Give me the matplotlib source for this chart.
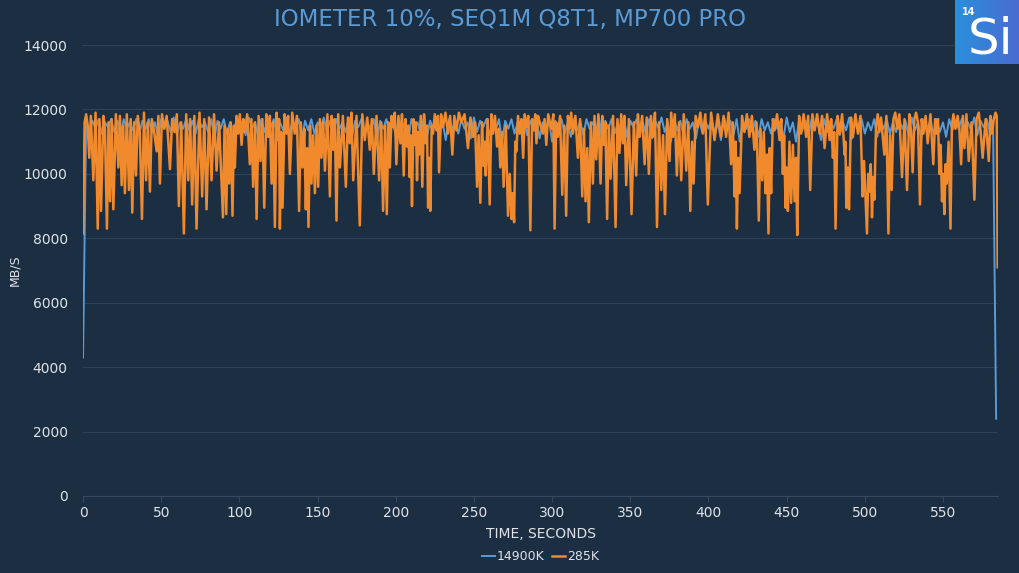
import numpy as np
import matplotlib
matplotlib.use("Agg")
import matplotlib.pyplot as plt

# Данные (время, с -> МБ/с)
title = "IOMETER 10%, SEQ1M Q8T1, MP700 PRO"
series_names = ["14900K", "285K"]

# 14900K: шаг 2 секунды
blue_t = np.arange(0, 586, 2)
blue_v = [
    4300, 11600, 11300, 11650, 11400, 11700, 11250, 11600, 11450, 11700, 11300, 11650, 11200, 11700, 11400, 11600, 11350, 11700, 11250, 11650,
    11400, 11700, 11300, 11600, 11150, 11700, 11450, 11650, 11300, 11750, 11200, 11600, 11400, 11700, 11350, 11650, 11250, 11700, 11450, 11600,
    11300, 11700, 11100, 11650, 11400, 11700, 11250, 11600, 11000, 11700, 11350, 11650, 11200, 11750, 11400, 11600, 11150, 11700, 11300, 11650,
    11450, 11700, 11250, 11600, 11350, 11750, 11200, 11650, 11400, 11700, 11100, 11650, 11350, 11700, 11250, 11600, 11450, 11750, 11300, 11650,
    11200, 11700, 11400, 11600, 11300, 11750, 11150, 11650, 11450, 11700, 11250, 11600, 11350, 11700, 11050, 11650, 11400, 11700, 11300, 11600,
    11200, 11700, 11350, 11650, 11000, 11700, 11400, 11600, 11250, 11750, 11150, 11650, 11400, 11700, 11300, 11600, 11050, 11700, 11350, 11650,
    11250, 11700, 11400, 11600, 11100, 11750, 11300, 11650, 11450, 11700, 11200, 11600, 11350, 11700, 11000, 11650, 11400, 11700, 11250, 11600,
    11350, 11700, 11200, 11650, 11400, 11750, 11100, 11600, 11300, 11700, 11000, 11650, 11400, 11700, 11250, 11600, 11150, 11700, 11350, 11650,
    11200, 11700, 11400, 11600, 11300, 11750, 11050, 11650, 11400, 11700, 11250, 11600, 11350, 11700, 11150, 11650, 11450, 11700, 11300, 11600,
    11250, 11700, 11100, 11650, 11400, 11750, 11300, 11600, 11000, 11700, 11350, 11650, 11200, 11700, 11400, 11600, 11100, 11700, 11300, 11650,
    11400, 11700, 11250, 11600, 11050, 11750, 11350, 11650, 11200, 11700, 11000, 11600, 11400, 11700, 11300, 11650, 11150, 11700, 11350, 11600,
    11250, 11700, 11400, 11650, 11100, 11750, 11300, 11600, 11000, 11700, 11350, 11650, 11200, 11700, 11450, 11600, 11050, 11700, 11300, 11650,
    11400, 11700, 11200, 11600, 11350, 11750, 11100, 11650, 11400, 11700, 11250, 11600, 11350, 11700, 11150, 11650, 11400, 11700, 11250, 11600,
    11300, 11700, 11400, 11650, 11200, 11750, 11350, 11600, 11100, 11700, 11400, 11650, 11250, 11700, 11300, 11600, 11150, 11700, 11350, 11650,
    11400, 11700, 11250, 11600, 11350, 11750, 11200, 11650, 11450, 11700, 11300, 11650, 2400,
]

# 285K: точки (время, МБ/с) - провалы и пики
orange_pts = [
    (0, 8150), (1, 11600), (2, 11850), (3, 11500), (4, 10500), (5, 11800), (6.6, 9800), (8, 11900), (9.4, 8300), (10.5, 11700),
    (11.5, 8850), (13, 11800), (14, 11400), (15.3, 8300), (16.3, 11600), (17.3, 9150), (18.3, 11700), (19.4, 8900), (21, 11850), (22.6, 10200),
    (23.6, 11800), (24.7, 9650), (25.7, 11500), (26.8, 9400), (28, 11850), (29.4, 9500), (30.5, 11700), (31.5, 8800), (32.7, 11600), (33.9, 9950),
    (35, 11800), (36.3, 11300), (37.7, 8600), (39, 11900), (40.3, 9800), (41.5, 11600), (42.8, 9450), (44, 11700), (45.5, 11300), (47.1, 10700),
    (48.2, 11800), (49.2, 9700), (50.5, 11850), (52, 11400), (53.5, 11800), (55.6, 10150), (57, 11700), (58.5, 11300), (60, 11850), (61.3, 9000),
    (62.8, 11600), (64.5, 8150), (66, 11850), (67.3, 9800), (68.5, 11700), (69.8, 9050), (71.2, 11800), (72.6, 8300), (74.5, 11900), (76.2, 9300),
    (77.5, 11700), (79, 8900), (80.6, 11750), (82.2, 9800), (83.8, 11850), (85.4, 10100), (87, 11600), (89.5, 8650), (90.5, 11500), (91.6, 8750),
    (92.6, 11400), (93.5, 9700), (94.5, 11600), (95.6, 8700), (96.5, 11500), (97.1, 10200), (98.2, 11800), (99.3, 11250), (100.3, 11850), (101.4, 10900),
    (102.5, 11700), (103.5, 11300), (105, 11850), (106.7, 10300), (107.7, 11700), (108.8, 9600), (110, 11600), (111, 8600), (112.3, 11800), (113.5, 10400),
    (114.7, 11700), (115.9, 8950), (117.2, 11850), (118.4, 11150), (119.5, 11800), (120.6, 9700), (121.6, 11600), (122.7, 8350), (123.8, 11900), (124.8, 11050),
    (125.4, 11700), (125.9, 8300), (126.8, 11300), (127.6, 8950), (128.9, 11850), (130.1, 11250), (131.2, 11800), (132.3, 10000), (133.8, 11900), (135.4, 11250),
    (136.8, 11800), (138.2, 8850), (139.3, 11600), (140.4, 10200), (141.5, 11400), (142.5, 8900), (143.3, 10800), (144.2, 8350), (145.2, 11500), (146.1, 9700),
    (147.2, 11200), (148.3, 9400), (149.4, 11500), (150.4, 9600), (151.5, 11700), (152.5, 10500), (153.6, 11600), (154.7, 10100), (156.3, 11850), (157.9, 9300),
    (159, 11800), (160, 10750), (161, 11700), (162.1, 8550), (163.2, 11850), (164.3, 10200), (166.2, 11800), (168.1, 9600), (169.4, 11750), (170.6, 10950),
    (171.7, 11900), (172.8, 9800), (174.9, 11800), (177, 8400), (178.6, 11850), (180.2, 11050), (181.8, 11750), (183.4, 10750), (184.7, 11700), (186, 10000),
    (187.7, 11800), (189.4, 9800), (190.7, 11600), (191.9, 8850), (193.2, 11500), (194.3, 8750), (195.3, 11600), (196.2, 10200), (197.3, 11800), (198.3, 11450),
    (199.4, 11900), (200.4, 10300), (201.7, 11800), (203, 10950), (204, 11850), (205.1, 9950), (206.2, 11700), (207.2, 10850), (208, 11500), (208.9, 9900),
    (209.6, 11200), (210.4, 9000), (211.3, 11700), (212.1, 10900), (212.9, 11600), (213.6, 9800), (214.3, 11300), (214.9, 10600), (216, 11800), (217, 9600),
    (218.1, 11850), (219.2, 10950), (220, 11500), (220.7, 8950), (221.4, 10500), (222.1, 8850), (223, 11500), (223.8, 11250), (225, 11850), (226, 11350),
    (227, 11800), (227.7, 10050), (229, 11850), (230.2, 11450), (231.8, 11900), (233.4, 11250), (234.8, 11800), (236.2, 10600), (237.5, 11800), (238.8, 11350),
    (240.4, 11900), (242, 11600), (244, 11850), (246.2, 10800), (247.8, 11750), (249.4, 11150), (250.7, 11600), (252, 9600), (253, 11200), (254.1, 9100),
    (255.2, 11600), (256.2, 10250), (256.9, 11000), (257.5, 9950), (258.8, 11700), (260.1, 9050), (261.2, 11850), (262.2, 11250), (263.5, 11800), (264.8, 10850),
    (265.9, 11400), (266.9, 10200), (268, 11300), (269, 9600), (270.4, 11500), (271.8, 8700), (272.9, 10000), (274, 8600), (274.8, 9400), (275.7, 8500),
    (276.5, 11000), (277.2, 10700), (278.2, 11800), (279.3, 11250), (280.4, 11700), (281.5, 10500), (282.5, 11850), (283.6, 11450), (284.8, 11800), (286.1, 8250),
    (287.2, 11700), (288.3, 11350), (289.2, 11850), (290, 10950), (291, 11800), (292.1, 11600), (294.1, 11250), (295.2, 11700), (296.3, 10900), (297.5, 11850),
    (299.5, 11400), (300.8, 11850), (301.6, 8300), (302.6, 11600), (303.7, 11150), (305.1, 11800), (306.5, 9350), (307.7, 11500), (309, 8700), (310.1, 11800),
    (311.2, 11400), (312.2, 11900), (313.3, 11250), (314.9, 11800), (316.5, 10500), (317.9, 11700), (319.3, 9300), (320.4, 11400), (321.4, 9150), (322.5, 10800),
    (323.5, 8500), (324.8, 11600), (326.1, 9700), (327.1, 11800), (328.2, 10450), (329.6, 11850), (331, 9700), (332.1, 11800), (333.1, 10900), (334.1, 11600),
    (335.2, 8600), (336.3, 11500), (337.4, 9850), (339, 11800), (340.6, 8350), (341.8, 11700), (343.1, 10650), (344.2, 11850), (345.3, 10950), (346.3, 11800),
    (347.4, 9650), (349.1, 11700), (350.8, 8750), (352.3, 11600), (353.8, 9950), (354.9, 11850), (356, 11150), (357.6, 11800), (359.2, 10300), (360.5, 11750),
    (361.9, 10000), (363.2, 11800), (364.5, 11150), (365.8, 11900), (367.1, 8350), (368.4, 11600), (369.8, 9500), (371, 11200), (372.2, 8750), (373.6, 11700),
    (375.1, 10400), (376.2, 11900), (377.3, 11150), (378.5, 11850), (379.8, 9950), (381.2, 11600), (382.6, 9800), (384.2, 11850), (385.8, 10100), (387.1, 11600),
    (388.4, 8850), (389.5, 11000), (390.5, 9700), (391.8, 11800), (393.2, 11450), (394.8, 11900), (396.4, 11250), (398, 11850), (399.6, 9050), (401.7, 11900),
    (403.9, 11050), (406, 11850), (408.1, 11150), (409.7, 11800), (411.3, 11150), (412.9, 11900), (414.5, 10300), (415.6, 11600), (416.7, 9300), (417.4, 11000),
    (418.2, 8300), (419, 10500), (419.9, 9400), (421.5, 11800), (423, 11300), (424.6, 11850), (426.2, 11150), (427.8, 11800), (429.4, 10750), (430.8, 11600),
    (432.2, 8550), (433.3, 11400), (434.4, 9800), (435.4, 11300), (436.5, 9400), (437.4, 10600), (438.4, 8150), (439.2, 10800), (440.1, 9400), (441.2, 11700),
    (442.3, 11350), (443.9, 11850), (445.5, 11050), (446.6, 11700), (447.6, 10000), (448.4, 11200), (449.3, 8950), (450, 10200), (450.8, 8850), (451.8, 11000),
    (452.9, 9100), (454, 10900), (455.1, 9150), (456, 10500), (456.8, 8100), (458, 11800), (459.3, 11250), (460.9, 11850), (462.5, 11150), (463.8, 11800),
    (465.1, 9500), (466.5, 11850), (467.9, 11350), (469.5, 11850), (471.1, 11250), (472.7, 11800), (474.3, 10800), (475.9, 11850), (477.5, 11050), (478.5, 11700),
    (479.6, 10500), (480.4, 11300), (481.3, 8300), (482.6, 11800), (483.9, 11250), (485.5, 11850), (487.1, 10600), (487.6, 11000), (488.2, 8950), (489, 10200),
    (489.9, 8900), (491.2, 11750), (492.4, 11150), (494, 11850), (495.6, 11250), (497.2, 11800), (498.6, 9300), (499.5, 10400), (501.4, 8150), (502.2, 10000),
    (502.9, 9450), (503.8, 10300), (504.6, 8650), (505.4, 9900), (506.1, 9200), (507.2, 11500), (508.3, 11850), (509.3, 11300), (510.4, 11750), (512.5, 10600),
    (513.8, 11800), (515.1, 8150), (516.1, 11200), (517.2, 9500), (518.3, 11700), (519.5, 11900), (520.8, 11400), (522.1, 11850), (523.8, 9900), (525.4, 11700),
    (527, 9500), (528.5, 11850), (529.6, 11300), (530.6, 10050), (531.7, 11700), (532.8, 11900), (534, 11600), (535.3, 9050), (536.4, 11700), (537.5, 11250),
    (538.9, 11800), (540.2, 10950), (542, 11850), (543.8, 10300), (545, 11700), (546, 11250), (546.8, 11700), (547.7, 10000), (548.5, 10900), (549.4, 9150),
    (550.1, 10000), (550.9, 8750), (551.7, 10300), (552.4, 9700), (553.6, 11000), (554.8, 8300), (555.7, 11500), (556.7, 11850), (558, 11400), (559.4, 11800),
    (560.5, 11400), (561.6, 10300), (562.7, 11800), (563.7, 10800), (565, 11850), (566.5, 10400), (568.3, 11600), (570.1, 9200), (571.5, 11700), (572.9, 11900),
    (574.1, 11300), (575.4, 10500), (577.3, 11700), (579.3, 10400), (580.4, 11800), (581.4, 11250), (582.5, 11700), (583.6, 11900), (584.4, 11800), (585, 7100),
]
orange_t = [p[0] for p in orange_pts]
orange_v = [p[1] for p in orange_pts]

y_ticks = [0, 2000, 4000, 6000, 8000, 10000, 12000, 14000]
x_ticks = [0, 50, 100, 150, 200, 250, 300, 350, 400, 450, 500, 550]

bg = '#1c2e42'
txt = '#dfe3e8'
blue = '#5b9bd5'
orange = '#f08a2c'

fig = plt.figure(figsize=(10.2, 5.73), dpi=100, facecolor=bg)
ax = fig.add_axes([0.0814, 0.1344, 0.8975, 0.787], facecolor=bg)

ax.plot(blue_t, blue_v, color=blue, lw=1.4, label=series_names[0])
ax.plot(orange_t, orange_v, color=orange, lw=1.8, label=series_names[1])

ax.set_xlim(0, 585.5)
ax.set_ylim(0, 14000)
ax.set_yticks(y_ticks)
ax.set_xticks(x_ticks)
ax.grid(axis='y', color='#2d4157', lw=0.8)
ax.set_axisbelow(True)
for s in ['top', 'right', 'left']:
    ax.spines[s].set_visible(False)
ax.spines['bottom'].set_color('#34495f')
ax.tick_params(axis='y', length=0, colors=txt, labelsize=10, pad=11)
ax.tick_params(axis='x', length=4, color='#34495f', colors=txt, labelsize=10, pad=3)

ax.set_xlabel('TIME, SECONDS', color=txt, fontsize=10, labelpad=5)
ax.set_ylabel('MB/S', color=txt, fontsize=9, labelpad=2)
fig.text(0.5, 0.966, title, ha='center', va='center', color='#5b9bd5', fontsize=16.5)

leg = ax.legend(loc='upper center', bbox_to_anchor=(0.5, -0.095), ncol=2, frameon=False,
                fontsize=9, handlelength=1.0, handletextpad=0.2, columnspacing=0.6, labelcolor=txt)

# логотип "Si"
lax = fig.add_axes([955 / 1020, 1 - 64 / 573, 65 / 1020, 64 / 573])
grad = np.linspace(0, 1, 100).reshape(1, -1)
lax.imshow(grad, aspect='auto', cmap=matplotlib.colors.LinearSegmentedColormap.from_list('g', ['#2b8fdc', '#4a6bd0']),
           extent=[0, 1, 0, 1])
lax.set_axis_off()
lax.text(0.1, 0.82, '14', color='white', fontsize=7, fontweight='bold', ha='left', va='center', transform=lax.transAxes)
lax.text(0.55, 0.38, 'Si', color='white', fontsize=36, ha='center', va='center', transform=lax.transAxes)

fig.savefig('out.png', dpi=100, facecolor=bg)
